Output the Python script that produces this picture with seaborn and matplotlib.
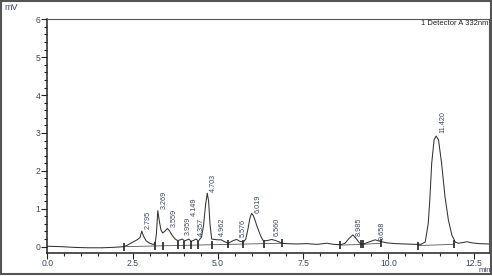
import numpy as np
import pandas as pd
import matplotlib
matplotlib.use("Agg")
import matplotlib.pyplot as plt
from matplotlib.patches import Rectangle
from matplotlib.ticker import MultipleLocator, FormatStrFormatter
import seaborn as sns

# ---- data ----
time = [0.0, 0.4, 0.8, 1.2, 1.6, 1.9, 2.1, 2.25, 2.35, 2.45, 2.55, 2.65, 2.72, 2.77, 2.82,
        2.9, 3.0, 3.1, 3.16, 3.2, 3.24, 3.28, 3.33, 3.38, 3.44, 3.52, 3.58, 3.66, 3.75,
        3.82, 3.9, 3.96, 4.02, 4.1, 4.15, 4.22, 4.3, 4.36, 4.43, 4.52, 4.58, 4.64, 4.69,
        4.73, 4.77, 4.82, 4.9, 5.0, 5.1, 5.2, 5.31, 5.45, 5.55, 5.65, 5.75, 5.82, 5.88,
        5.94, 5.99, 6.04, 6.09, 6.14, 6.19, 6.24, 6.29, 6.34, 6.45, 6.58, 6.7, 6.78, 6.87,
        7.0, 7.3, 7.6, 7.9, 8.2, 8.4, 8.6, 8.73, 8.85, 8.96, 9.05, 9.15, 9.22, 9.3, 9.45,
        9.61, 9.72, 9.81, 9.95, 10.2, 10.5, 10.8, 10.95, 11.08, 11.17, 11.22, 11.27, 11.34,
        11.40, 11.47, 11.56, 11.66, 11.76, 11.86, 11.96, 12.05, 12.2, 12.3, 12.45, 12.65, 12.95]
signal = [0.01, 0.0, -0.02, -0.03, -0.03, -0.02, -0.01, 0.0, 0.04, 0.09, 0.14, 0.19, 0.24, 0.41, 0.28,
          0.15, 0.09, 0.06, 0.07, 0.35, 0.95, 0.7, 0.45, 0.36, 0.40, 0.48, 0.42, 0.3, 0.2,
          0.16, 0.18, 0.2, 0.15, 0.18, 0.2, 0.14, 0.17, 0.2, 0.15, 0.25, 0.55, 1.1, 1.41,
          1.2, 0.6, 0.2, 0.19, 0.18, 0.18, 0.13, 0.09, 0.16, 0.19, 0.14, 0.12, 0.2, 0.45,
          0.75, 0.88, 0.82, 0.7, 0.56, 0.44, 0.32, 0.22, 0.15, 0.16, 0.19, 0.16, 0.13, 0.09,
          0.08, 0.07, 0.08, 0.06, 0.09, 0.06, 0.05, 0.09, 0.22, 0.31, 0.22, 0.1, 0.07, 0.08, 0.13,
          0.18, 0.15, 0.13, 0.1, 0.08, 0.07, 0.06, 0.06, 0.12, 0.62, 1.32, 2.2, 2.82,
          2.92, 2.82, 2.2, 1.32, 0.7, 0.31, 0.12, 0.09, 0.11, 0.13, 0.1, 0.08, 0.07]

peak_rt = [2.795, 3.269, 3.559, 3.959, 4.149, 4.357, 4.703, 4.962, 5.576, 6.019, 6.560,
           8.985, 9.658, 11.420]
label_height = [0.47, 1.0, 0.52, 0.3, 0.8, 0.27, 1.45, 0.29, 0.26, 0.9, 0.29, 0.29, 0.18, 3.0]

mark_t = [2.25, 3.15, 3.38, 3.82, 4.02, 4.22, 4.43, 4.84, 5.31, 5.73, 6.34, 6.87,
          8.59, 9.19, 9.25, 9.78, 10.88, 11.93]
mark_y = [0.0, 0.018, 0.022, 0.031, 0.034, 0.038, 0.042, 0.05, 0.06, 0.068, 0.08, 0.09,
          0.04, 0.06, 0.06, 0.09, 0.03, 0.06]

base_seg_t = [[2.25, 6.87], [8.59, 9.25], [9.25, 9.78], [10.88, 11.93]]
base_seg_y = [[0.0, 0.09], [0.04, 0.06], [0.06, 0.09], [0.03, 0.06]]

x_major = [0.0, 2.5, 5.0, 7.5, 10.0, 12.5]
y_major = [0, 1, 2, 3, 4, 5, 6]

# ---- style ----
sns.set_style("white")
plt.rcParams["font.family"] = ["Liberation Sans", "DejaVu Sans"]
TXT = "#3a4660"

fig = plt.figure(figsize=(4.92, 2.76), dpi=100)
ax = fig.add_axes([0.0961, 0.0844, 0.8978, 0.8456])

df = pd.DataFrame({"time": time, "signal": signal})
sns.lineplot(data=df, x="time", y="signal", ax=ax, color="#333333", lw=0.75,
             estimator=None, sort=False)

for ts, ys in zip(base_seg_t, base_seg_y):
    ax.plot(ts, ys, color="#555555", lw=0.6)

ax.plot(mark_t, mark_y, ls="none", marker="|", markersize=5.5, mew=1.2, color="#222222")

for rt, h in zip(peak_rt, label_height):
    ax.text(rt + 0.17, h, f"{rt:.3f}", rotation=90, ha="center", va="bottom",
            fontsize=5.2, color=TXT)

ax.set_xlim(0, 12.95)
ax.set_ylim(-0.16, 6.0)
ax.set_xticks(x_major)
ax.set_yticks(y_major)
ax.xaxis.set_major_formatter(FormatStrFormatter("%.1f"))
ax.xaxis.set_minor_locator(MultipleLocator(0.5))
ax.yaxis.set_minor_locator(MultipleLocator(0.2))
ax.tick_params(which="major", direction="out", length=4, width=0.8, color="#222222",
               labelsize=6.2, labelcolor=TXT, pad=0.8)
ax.tick_params(axis="x", which="major", pad=0.3)
ax.tick_params(which="minor", direction="out", length=2.5, width=0.8, color="#222222")
ax.tick_params(axis="x", which="both", bottom=True)
ax.tick_params(axis="y", which="both", left=True)
ax.set_xlabel("")
ax.set_ylabel("")
for side in ["left", "bottom"]:
    ax.spines[side].set_color("#222222")
    ax.spines[side].set_linewidth(1.1)
for side in ["top", "right"]:
    ax.spines[side].set_color("#555555")
    ax.spines[side].set_linewidth(0.8)

ax.text(0.998, 0.98, "1 Detector A 332nm", transform=ax.transAxes, ha="right", va="center",
        fontsize=5.5, color="#222222")
fig.text(0.008, 0.972, "mV", ha="left", va="center", fontsize=6.5, color=TXT)
fig.text(0.998, 0.006, "min", ha="right", va="bottom", fontsize=5.6, color=TXT)

fig.patches.append(Rectangle((0.002, 0.009), 0.995, 0.989, transform=fig.transFigure,
                             fill=False, ec="#555555", lw=1.5))

fig.savefig("out.png", dpi=100)
